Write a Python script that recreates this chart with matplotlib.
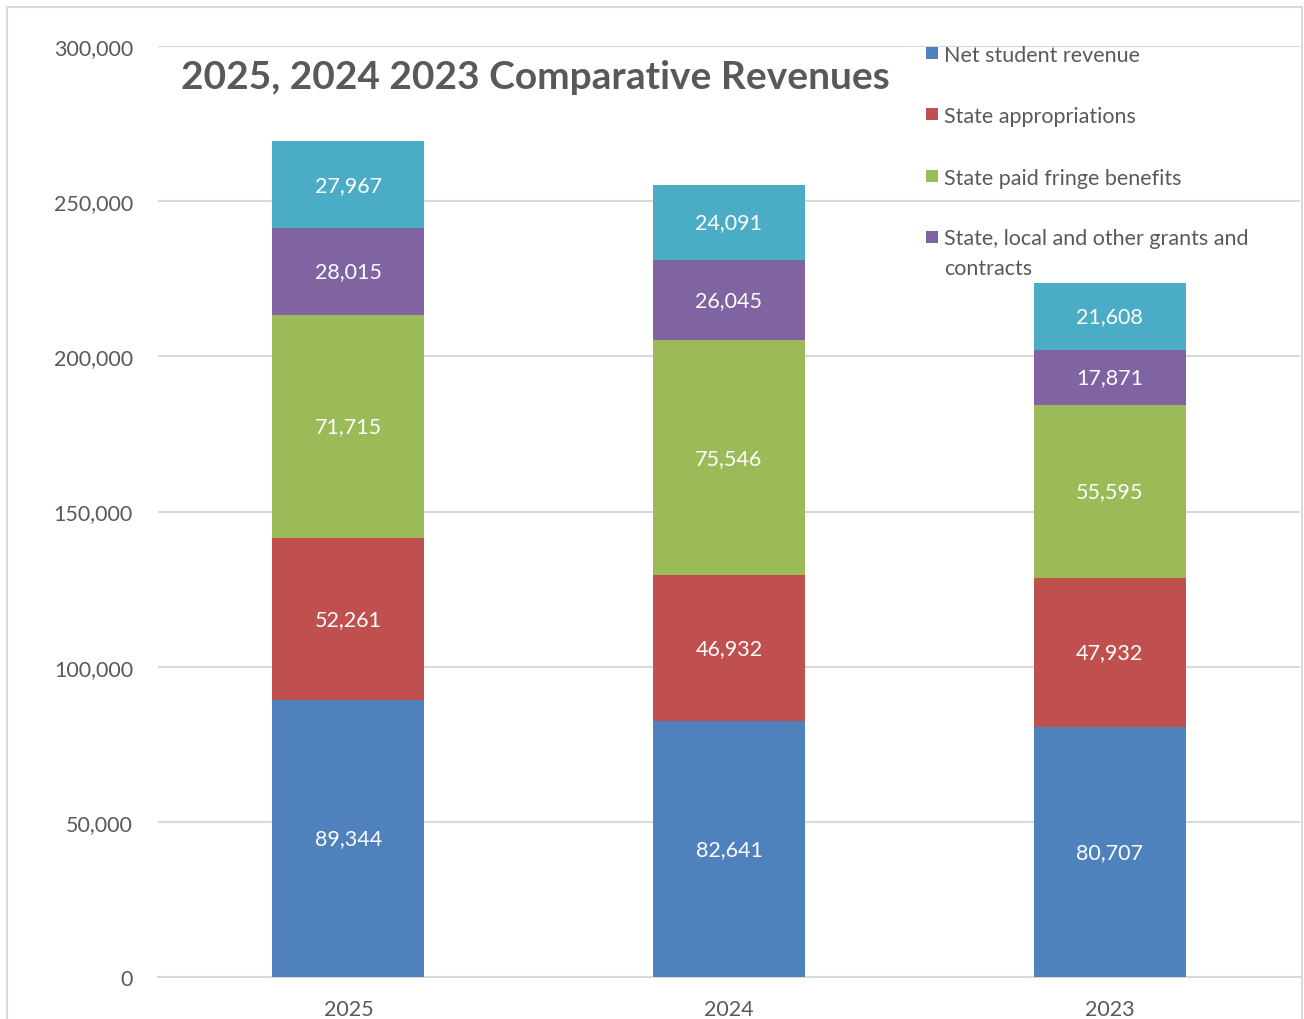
import matplotlib
matplotlib.use("Agg")
import matplotlib.pyplot as plt
from matplotlib.patches import Rectangle
from matplotlib.ticker import FuncFormatter
import numpy as np

years = ["2025", "2024", "2023"]
series_names = ["Net student revenue", "State appropriations",
                "State paid fringe benefits",
                "State, local and other grants and\ncontracts"]
net_student = [89344, 82641, 80707]
state_approp = [52261, 46932, 47932]
fringe = [71715, 75546, 55595]
grants = [28015, 26045, 17871]
other = [27967, 24091, 21608]
colors = ["#4F81BD", "#C0504D", "#9BBB59", "#8064A2", "#4BACC6"]

plt.rcParams['font.family'] = ['Lato', 'DejaVu Sans']
TXT = "#595959"
GRID = "#D9D9D9"
W, H = 1304, 1020

fig = plt.figure(figsize=(W / 100, H / 100), dpi=100)
fig.patches.append(Rectangle((7 / W, -0.1), (1302 - 7) / W, (H - 8) / H + 0.1,
                             transform=fig.transFigure, fill=False,
                             edgecolor=GRID, linewidth=1.5, zorder=0))
ax = fig.add_axes([158 / W, 42 / H, (1300 - 158) / W, (978 - 47) / H])

x = np.arange(len(years))
all_series = [net_student, state_approp, fringe, grants, other]
bottom = np.zeros(len(years))
for vals, c in zip(all_series, colors):
    vals = np.array(vals)
    ax.bar(x, vals, width=0.4, bottom=bottom, color=c, zorder=3)
    for xi, b, v in zip(x, bottom, vals):
        ax.text(xi, b + v / 2, f"{v:,}", ha="center", va="center",
                color="white", fontsize=15.5, zorder=4)
    bottom = bottom + vals

ax.set_xlim(-0.5, 2.5)
ax.set_ylim(0, 300000)
ax.set_yticks(np.arange(0, 300001, 50000))
ax.yaxis.set_major_formatter(FuncFormatter(lambda v, p: f"{int(v):,}"))
ax.set_xticks(x)
ax.set_xticklabels(years)
ax.tick_params(axis="both", length=0, labelsize=15.5, labelcolor=TXT)
ax.tick_params(axis="y", pad=18)
ax.tick_params(axis="x", pad=16)
ax.grid(axis="y", color=GRID, linewidth=1.5, zorder=0)
for s in ["left", "right", "top"]:
    ax.spines[s].set_visible(False)
ax.spines["bottom"].set_color(GRID)
ax.spines["bottom"].set_linewidth(1.5)

fig.text(181 / W, 1 - 78 / H, "2025, 2024 2023 Comparative Revenues",
         fontsize=28, fontweight="bold", color=TXT, ha="left", va="center")

# legend (manual, markers aligned to first text line like the original)
leg_y = [54, 115, 177, 238]
for name, c, yy in zip(series_names, colors[:4], leg_y):
    fig.patches.append(Rectangle((926 / W, 1 - (yy + 6) / H), 12 / W, 12 / H,
                                 transform=fig.transFigure, facecolor=c,
                                 edgecolor="none"))
    if "\n" in name:
        fig.text(944 / W, 1 - (yy - 9) / H, name, fontsize=15.5, color=TXT,
                 ha="left", va="top", linespacing=1.62)
    else:
        fig.text(944 / W, 1 - yy / H, name, fontsize=15.5, color=TXT,
                 ha="left", va="center_baseline")

fig.savefig("out.png", dpi=100)
